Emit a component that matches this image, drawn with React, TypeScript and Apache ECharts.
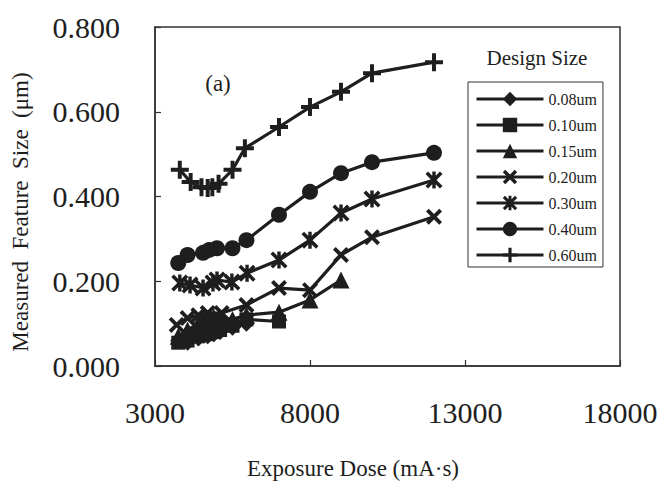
import React, { useEffect, useRef } from "react";
import * as echarts from "echarts";

// ---- Data ----
const dose008 = [3750, 4050, 4400, 4700, 4900, 5100, 5500, 5950];
const size008 = [0.06, 0.055, 0.065, 0.07, 0.075, 0.08, 0.09, 0.1];

const dose010 = [3750, 4050, 4400, 4700, 4900, 5100, 5500, 5950, 7000];
const size010 = [0.055, 0.06, 0.07, 0.075, 0.08, 0.085, 0.095, 0.11, 0.105];

const dose015 = [3750, 4050, 4400, 4700, 4900, 5100, 5500, 5950, 7000, 8000, 9000];
const size015 = [0.07, 0.085, 0.1, 0.11, 0.115, 0.115, 0.11, 0.12, 0.127, 0.156, 0.203];

const dose020 = [3700, 4050, 4400, 4700, 5150, 5950, 7000, 8000, 9000, 10000, 12000];
const size020 = [0.097, 0.113, 0.12, 0.125, 0.125, 0.144, 0.184, 0.179, 0.262, 0.304, 0.352];

const dose030 = [3800, 4130, 4550, 4870, 5000, 5480, 5970, 7000, 8000, 9000, 10000, 12000];
const size030 = [0.196, 0.191, 0.184, 0.196, 0.203, 0.198, 0.219, 0.25, 0.297, 0.361, 0.394, 0.439];

const dose040 = [3750, 4050, 4550, 4750, 5000, 5500, 5950, 7000, 8000, 9000, 10000, 12000];
const size040 = [0.243, 0.262, 0.267, 0.274, 0.278, 0.278, 0.297, 0.357, 0.411, 0.455, 0.481, 0.503];

const dose060 = [3800, 4150, 4500, 4700, 4850, 5050, 5500, 5900, 7000, 8000, 9000, 10000, 12000];
const size060 = [0.463, 0.434, 0.422, 0.42, 0.422, 0.43, 0.463, 0.514, 0.564, 0.611, 0.647, 0.691, 0.717];

const seriesNames = ["0.08um", "0.10um", "0.15um", "0.20um", "0.30um", "0.40um", "0.60um"];
const xTicks = [3000, 8000, 13000, 18000];
const yTicks = [0, 0.2, 0.4, 0.6, 0.8];

const xTitle = "Exposure Dose (mA·s)";
const yTitle = "Measured  Feature  Size  (μm)";
const legendTitle = "Design Size";
const panelLabel = "(a)";

const FONT = "'Liberation Serif', 'Times New Roman', serif";
const INK = "#1e1e1e";

const plusPath = "path://M3.9,0 H6.1 V3.9 H10 V6.1 H6.1 V10 H3.9 V6.1 H0 V3.9 H3.9 Z";
const xPath =
  "path://M0,1.7 L1.7,0 L5,3.3 L8.3,0 L10,1.7 L6.7,5 L10,8.3 L8.3,10 L5,6.7 L1.7,10 L0,8.3 L3.3,5 Z";
const asteriskPath =
  "path://M0,1.5 L1.5,0 L5,3.5 L8.5,0 L10,1.5 L6.5,5 L10,8.5 L8.5,10 L5,6.5 L1.5,10 L0,8.5 L3.5,5 Z M4.0,0 H6.0 V10 H4.0 Z";

export default function App() {
  const ref = useRef<HTMLDivElement>(null);

  useEffect(() => {
    if (!ref.current) return;
    const chart = echarts.init(ref.current, undefined, { renderer: "svg" });

    const doses = [dose008, dose010, dose015, dose020, dose030, dose040, dose060];
    const sizes = [size008, size010, size015, size020, size030, size040, size060];
    const symbols = ["diamond", "rect", "triangle", xPath, asteriskPath, "circle", plusPath];
    const symbolSizes = [16, 14, 17, 16, 17, 16, 18];

    const series = seriesNames.map((name, i) => ({
      name,
      type: "line",
      data: doses[i].map((d, j) => [d, sizes[i][j]]),
      symbol: symbols[i],
      symbolSize: symbolSizes[i],
      showAllSymbol: true,
      lineStyle: { color: INK, width: 3.2 },
      itemStyle: { color: INK, borderWidth: 0 },
      emphasis: { disabled: true },
    }));

    chart.setOption({
      animation: false,
      backgroundColor: "#fff",
      textStyle: { fontFamily: FONT },
      grid: {
        left: 155,
        top: 27,
        right: 42,
        bottom: 117,
        show: true,
        borderColor: "#333",
        borderWidth: 1.5,
        backgroundColor: "transparent",
      },
      xAxis: {
        type: "value",
        min: xTicks[0],
        max: xTicks[xTicks.length - 1],
        interval: xTicks[1] - xTicks[0],
        axisLine: { show: true, lineStyle: { color: "#333", width: 1.5 } },
        axisTick: { show: true, inside: true, length: 6, lineStyle: { color: "#333", width: 1.2 } },
        splitLine: { show: false },
        axisLabel: {
          margin: 31,
          fontSize: 30,
          fontFamily: FONT,
          color: INK,
          formatter: (v: number) => String(v),
        },
      },
      yAxis: {
        type: "value",
        min: yTicks[0],
        max: yTicks[yTicks.length - 1],
        interval: yTicks[1] - yTicks[0],
        axisLine: { show: true, lineStyle: { color: "#333", width: 1.5 } },
        axisTick: { show: true, inside: true, length: 6, lineStyle: { color: "#333", width: 1.2 } },
        splitLine: { show: false },
        axisLabel: {
          margin: 35,
          fontSize: 30,
          fontFamily: FONT,
          color: INK,
          formatter: (v: number) => v.toFixed(3),
        },
      },
      legend: {
        data: seriesNames,
        orient: "vertical",
        left: 468,
        top: 82,
        padding: [9, 6, 4, 7],
        itemWidth: 67,
        itemHeight: 18,
        itemGap: 10,
        borderColor: "#333",
        borderWidth: 1,
        backgroundColor: "#fff",
        lineStyle: { width: 3, color: INK },
        itemStyle: { color: INK, borderWidth: 0 },
        textStyle: { fontSize: 16, fontFamily: FONT, color: INK },
        selectedMode: false,
      },
      graphic: [
        {
          type: "text",
          x: 537,
          y: 58,
          style: {
            text: legendTitle,
            fontSize: 21,
            fontFamily: FONT,
            fill: INK,
            align: "center",
            verticalAlign: "middle",
          },
        },
        {
          type: "text",
          x: 218,
          y: 83,
          style: {
            text: panelLabel,
            fontSize: 23,
            fontFamily: FONT,
            fill: INK,
            align: "center",
            verticalAlign: "middle",
          },
        },
        {
          type: "text",
          x: 353,
          y: 468,
          style: {
            text: xTitle,
            fontSize: 23,
            fontFamily: FONT,
            fill: INK,
            align: "center",
            verticalAlign: "middle",
          },
        },
        {
          type: "text",
          x: 20,
          y: 212,
          rotation: Math.PI / 2,
          style: {
            text: yTitle,
            fontSize: 23,
            fontFamily: FONT,
            fill: INK,
            align: "center",
            verticalAlign: "middle",
          },
        },
      ],
      series,
    });

    return () => {
      chart.dispose();
    };
  }, []);

  return (
    <div
      ref={ref}
      style={{ position: "absolute", left: 0, top: 0, width: 662, height: 483 }}
    />
  );
}
